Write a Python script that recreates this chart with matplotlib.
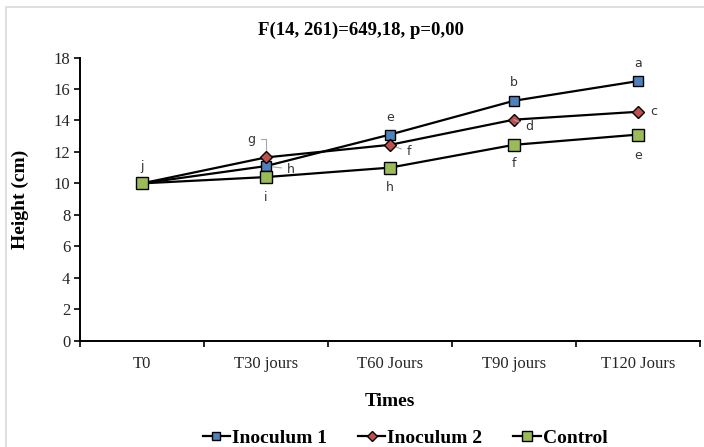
import matplotlib.pyplot as plt
from matplotlib.patches import Rectangle

plt.rcParams.update({
    "font.family": "serif",
    "font.serif": ["Liberation Serif", "DejaVu Serif"],
    "font.size": 12,
})

# Data.
times = ["T0", "T30 jours", "T60 Jours", "T90 jours", "T120 Jours"]
inoculum_1 = [10.0, 11.1, 13.1, 15.25, 16.5]
inoculum_2 = [10.0, 11.65, 12.45, 14.05, 14.55]
control = [10.0, 10.4, 11.0, 12.45, 13.1]

letters_1 = ["", "h", "e", "b", "a"]
letters_2 = ["", "g", "f", "d", "c"]
letters_c = ["j", "i", "h", "f", "e"]

# Label offsets in pixels (dx, dy) and whether a leader line is drawn.
offsets_1 = [None, (25, -3), (0, 17), (0, 18), (0, 18)]
offsets_2 = [None, (-15, 18), (19, -7), (15, -7), (16, 0)]
offsets_c = [(0, 17), (0, -20), (0, -20), (0, -19), (0, -21)]
leaders_1 = [False, True, False, False, False]
leaders_2 = [False, True, True, True, False]
leaders_c = [False] * 5

BLUE = "#4F81BD"
RED = "#C0504D"
GREEN = "#9BBB59"
LETTER_COLOR = "#333333"

fig = plt.figure(figsize=(7.04, 4.47), dpi=100)
fig.patches.append(Rectangle((6 / 704, -0.1), 1.2, 1 - 7 / 447 + 0.1, transform=fig.transFigure,
                             fill=False, edgecolor="#d9d9d9", linewidth=1.2))
ax = fig.add_axes([80 / 704, 1 - 340.7 / 447, 620 / 704, (340.7 - 57.5) / 447])

x = list(range(len(times)))
series = [
    ("Inoculum 1", inoculum_1, "s", BLUE, 6.5, letters_1, offsets_1, leaders_1),
    ("Inoculum 2", inoculum_2, "D", RED, 6.0, letters_2, offsets_2, leaders_2),
    ("Control", control, "s", GREEN, 8.0, letters_c, offsets_c, leaders_c),
]
for name, values, marker, color, size, letters, offsets, leaders in series:
    ax.plot(x, values, color="black", linewidth=1.6, marker=marker, markersize=size,
            markerfacecolor=color, markeredgecolor="black", markeredgewidth=1.0, label=name)
    for xi, yi, letter, off, lead in zip(x, values, letters, offsets, leaders):
        if not letter:
            continue
        kw = {}
        if lead:
            kw["arrowprops"] = dict(arrowstyle="-", color="#a6a6a6", lw=0.8,
                                    shrinkA=2, shrinkB=5,
                                    connectionstyle="angle,angleA=0,angleB=90,rad=0"
                                    if off[1] > 10 else "arc3")
        ax.annotate(letter, (xi, yi), xytext=off, textcoords="offset pixels",
                    ha="center", va="center", fontsize=9, color=LETTER_COLOR,
                    family="DejaVu Sans", **kw)

ax.set_xlim(-0.5, len(times) - 0.5)
ax.set_ylim(0, 18)
ax.set_yticks(range(0, 19, 2))
ax.set_xticks(x)
ax.set_xticklabels(times, fontsize=12, color="#262626")
ax.set_xticks([i - 0.5 for i in range(len(times) + 1)], minor=True)
ax.tick_params(axis="x", which="major", length=0, pad=11)
ax.tick_params(axis="x", which="minor", length=4, width=1.2, direction="out")
ax.tick_params(axis="y", length=4, width=1.2, direction="out", labelsize=12,
               labelcolor="#262626", pad=3)
for side in ("top", "right"):
    ax.spines[side].set_visible(False)
for side in ("left", "bottom"):
    ax.spines[side].set_linewidth(1.4)

ax.set_xlabel("Times", fontsize=14, fontweight="bold", va="center")
ax.xaxis.set_label_coords(0.5, (340.7 - 402) / 283.2)
ax.set_ylabel("Height (cm)", fontsize=14, fontweight="bold", va="center")
ax.yaxis.set_label_coords((20 - 80) / 620, 0.5)
fig.text(361 / 704, 1 - 30 / 447, "F(14, 261)=649,18, p=0,00", ha="center", va="center",
         fontsize=13.5, fontweight="bold")

fig.legend(loc="center", bbox_to_anchor=(405 / 704, 1 - 438 / 447), ncol=3, frameon=False,
           prop={"weight": "bold", "size": 14}, handlelength=1.4, columnspacing=1.6,
           handletextpad=0.1, markerscale=0.9)

fig.savefig("out.png", dpi=100)
